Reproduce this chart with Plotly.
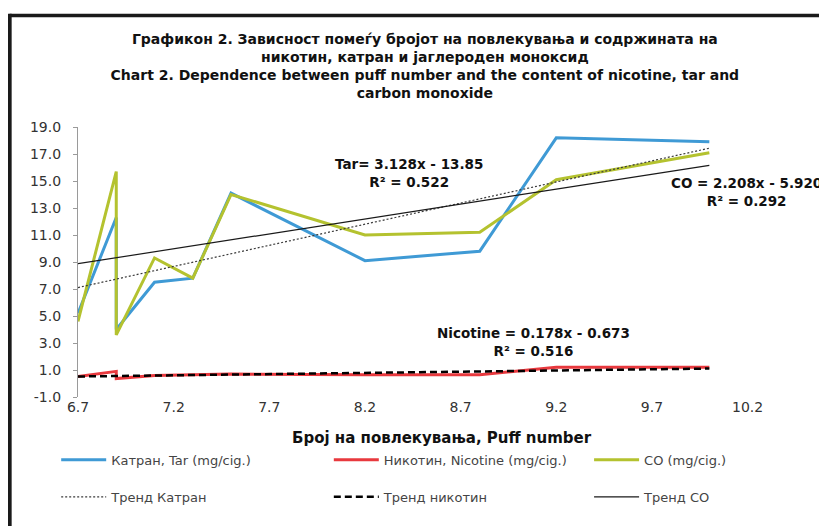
import numpy as np
import plotly.graph_objects as go

# ---- data ----
puff = [6.7, 6.9, 6.9, 7.1, 7.3, 7.5, 8.2, 8.8, 9.2, 10.0]
tar = [5.2, 12.3, 4.0, 7.5, 7.8, 14.1, 9.1, 9.8, 18.2, 17.9]
nicotine = [0.52, 0.9, 0.37, 0.6, 0.65, 0.7, 0.65, 0.65, 1.2, 1.2]
co = [4.6, 15.7, 3.6, 9.3, 7.8, 14.0, 11.0, 11.2, 15.1, 17.1]

trend_names = ["Тренд Катран", "Тренд никотин", "Тренд CO"]
trend_slope = [3.128, 0.178, 2.208]
trend_intercept = [-13.85, -0.673, -5.920]

series_names = ["Катран, Tar (mg/cig.)", "Никотин, Nicotine (mg/cig.)", "CO (mg/cig.)"]

y_ticks = [-1.0, 1.0, 3.0, 5.0, 7.0, 9.0, 11.0, 13.0, 15.0, 17.0, 19.0]
x_ticks = [6.7, 7.2, 7.7, 8.2, 8.7, 9.2, 9.7, 10.2]

title_lines = [
    "Графикон 2. Зависност помеѓу бројот на повлекувања и содржината на",
    "никотин, катран и јаглероден моноксид",
    "Chart 2. Dependence between puff number and the content of nicotine, tar and",
    "carbon monoxide",
]
x_title = "Број на повлекувања, Puff number"
eq_texts = ["Tar= 3.128x - 13.85<br>R² = 0.522",
            "Nicotine = 0.178x - 0.673<br>R² = 0.516",
            "CO = 2.208x - 5.920<br>R² = 0.292"]

FONT = "DejaVu Sans, Liberation Sans, sans-serif"
BLUE = "#3F9AD5"
RED = "#E8393E"
GREEN = "#B4C22F"

fig = go.Figure()

legend_ids = ["legend", "legend2", "legend3", "legend4", "legend5", "legend6"]

series_vals = [tar, nicotine, co]
series_cols = [BLUE, RED, GREEN]
for i, (nm, vals, col) in enumerate(zip(series_names, series_vals, series_cols)):
    fig.add_trace(go.Scatter(x=puff, y=vals, mode="lines", name=nm, showlegend=True,
                             line=dict(color=col, width=3), legend=legend_ids[i]))

x_fit = np.array([min(puff), max(puff)])
trend_styles = [dict(color="#3a3a3a", width=1.2, dash="2px,2px"),
                dict(color="black", width=2.5, dash="7px,4px"),
                dict(color="#1a1a1a", width=1.2)]
for i, (name, a, b, st) in enumerate(zip(trend_names, trend_slope, trend_intercept, trend_styles)):
    fig.add_trace(go.Scatter(x=x_fit, y=a * x_fit + b, mode="lines", name=name, showlegend=True,
                             line=st, legend=legend_ids[3 + i]))

# equation labels
eq_pos = [(8.43, 15.6), (9.08, 3.07), (10.195, 14.2)]
for txt, (ax, ay) in zip(eq_texts, eq_pos):
    fig.add_annotation(x=ax, y=ay, text="<b>" + txt + "</b>", showarrow=False,
                       font=dict(family=FONT, size=13.5, color="#111"), align="center")

# x axis title
fig.add_annotation(x=0.5, y=-0.15, xref="paper", yref="paper", text="<b>" + x_title + "</b>",
                   showarrow=False, font=dict(family=FONT, size=15, color="#111"),
                   yanchor="middle")

# outer frame (top and left edges)
fig.add_shape(type="line", xref="paper", yref="paper", x0=-0.094, x1=1.04, y0=1.413, y1=1.413,
              line=dict(color="#1a1a1a", width=3.5))
fig.add_shape(type="line", xref="paper", yref="paper", x0=-0.094, x1=-0.094, y0=1.419, y1=-0.5,
              line=dict(color="#1a1a1a", width=4))

leg_common = dict(orientation="h", xanchor="left", yanchor="middle",
                  font=dict(family=FONT, size=13, color="#444"),
                  bgcolor="rgba(0,0,0,0)", itemwidth=45)
leg_x = [-0.03, 0.345, 0.703]
leg_y = [-0.233, -0.37]

layout_legends = {}
for k, lid in enumerate(legend_ids):
    layout_legends[lid] = dict(x=leg_x[k % 3], y=leg_y[k // 3], **leg_common)

# the page body has an 8px margin, so the figure is 8px smaller and offset accordingly
fig.update_layout(
    width=819, height=518,
    showlegend=True,
    paper_bgcolor="white", plot_bgcolor="white",
    margin=dict(l=70, r=22, t=119, b=129, autoexpand=False),
    title=dict(text="<b>" + "<br>".join(title_lines) + "</b>", x=0.509, xanchor="center",
               y=0.931, yanchor="top", yref="container",
               font=dict(family=FONT, size=14, color="#111")),
    xaxis=dict(range=[6.7, 10.5], tickvals=x_ticks, ticktext=[f"{v:.1f}" for v in x_ticks],
               showgrid=False, zeroline=False, showline=False, ticks="",
               tickfont=dict(family=FONT, size=14, color="#333")),
    xaxis2=dict(range=[6.7, 10.5], overlaying="x", anchor="free", position=0.05, side="bottom",
                tickvals=x_ticks, showticklabels=False, showgrid=False, zeroline=False,
                showline=True, linecolor="#9a9a9a", linewidth=1.2, ticks="outside",
                ticklen=4, tickcolor="#9a9a9a"),
    yaxis=dict(range=[-1, 19], tickvals=y_ticks, ticktext=[f"{v:.1f}" for v in y_ticks],
               showgrid=False, zeroline=False, showline=True, linecolor="#9a9a9a",
               linewidth=1.2, ticks="outside", ticklen=4, tickcolor="#9a9a9a",
               ticklabelstandoff=9,
               tickfont=dict(family=FONT, size=14, color="#333")),
    **layout_legends,
)

fig.write_html("out.html")
